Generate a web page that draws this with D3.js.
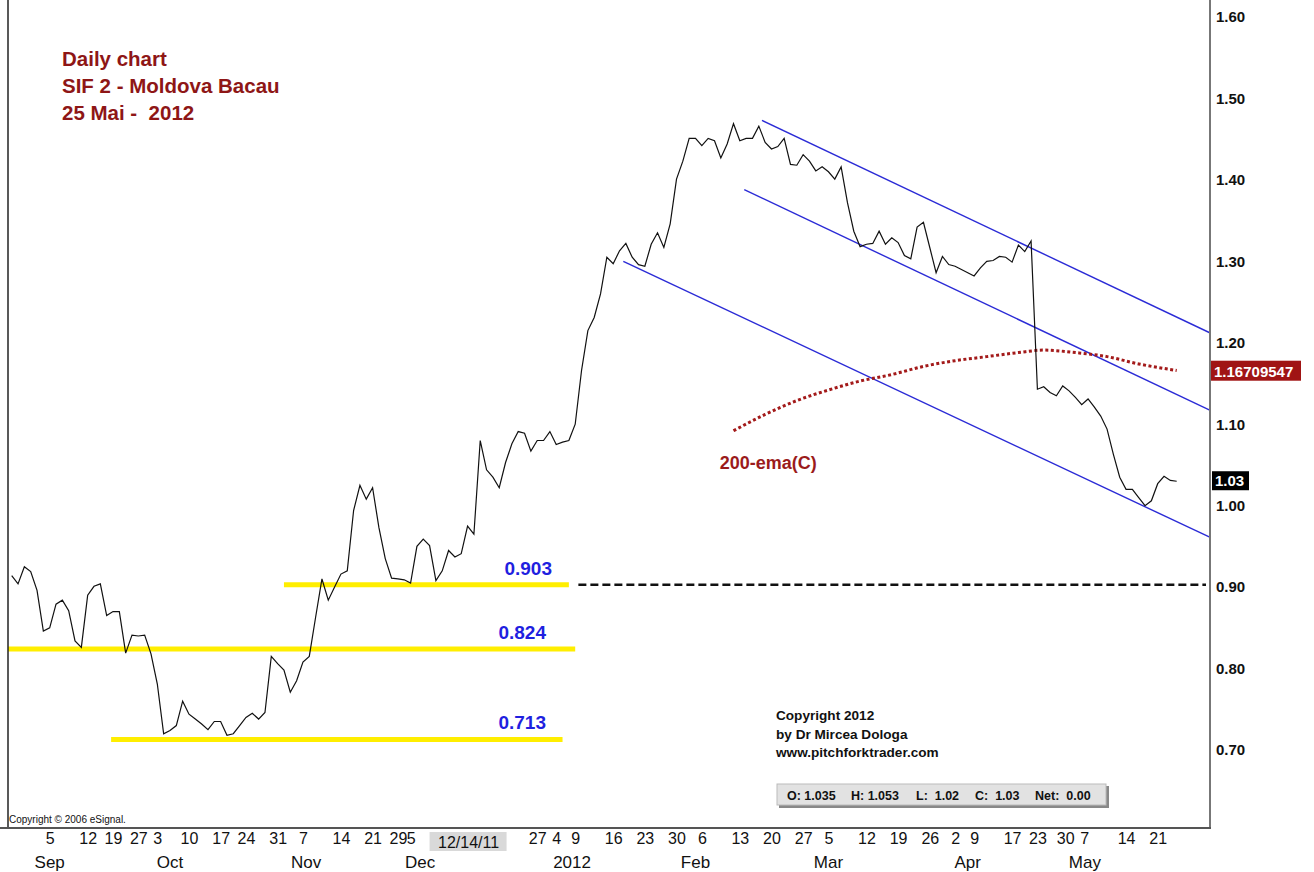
<!DOCTYPE html>
<html>
<head>
<meta charset="utf-8">
<script src="https://d3js.org/d3.v7.min.js"></script>
<style>
  body { margin: 0; background: #fff; }
  text { font-family: Arial, "Liberation Sans", sans-serif; white-space: pre; }
</style>
</head>
<body>
<div id="chart"></div>
<script>
const svgWidth = 1314;
const svgHeight = 872;

// daily closes, one per bar (SIF2, early Sep 2011 -> 25 May 2012)
const closes = [
  0.914, 0.904, 0.925, 0.919, 0.896, 0.846, 0.850, 0.879, 0.884, 0.871,
  0.834, 0.826, 0.890, 0.901, 0.904, 0.865, 0.870, 0.870, 0.819, 0.841,
  0.840, 0.841, 0.818, 0.781, 0.720, 0.724, 0.730, 0.760, 0.744, 0.738,
  0.732, 0.725, 0.735, 0.735, 0.718, 0.720, 0.730, 0.740, 0.745, 0.738,
  0.746, 0.815, 0.806, 0.798, 0.771, 0.785, 0.808, 0.815, 0.863, 0.910,
  0.884, 0.900, 0.916, 0.920, 0.994, 1.025, 1.008, 1.022, 0.973, 0.935,
  0.911, 0.910, 0.909, 0.905, 0.950, 0.959, 0.951, 0.908, 0.920, 0.945,
  0.937, 0.941, 0.975, 0.965, 1.080, 1.044, 1.035, 1.022, 1.053, 1.076,
  1.091, 1.089, 1.067, 1.080, 1.080, 1.091, 1.075, 1.078, 1.080, 1.100,
  1.166, 1.215, 1.231, 1.260, 1.305, 1.297, 1.313, 1.322, 1.305, 1.296,
  1.294, 1.321, 1.335, 1.317, 1.346, 1.401, 1.423, 1.451, 1.451, 1.442,
  1.451, 1.448, 1.427, 1.444, 1.469, 1.448, 1.451, 1.451, 1.466, 1.446,
  1.438, 1.441, 1.451, 1.419, 1.418, 1.431, 1.423, 1.411, 1.416, 1.410,
  1.401, 1.416, 1.372, 1.337, 1.318, 1.321, 1.322, 1.337, 1.321, 1.329,
  1.323, 1.307, 1.303, 1.342, 1.348, 1.317, 1.286, 1.306, 1.296, 1.294,
  1.290, 1.286, 1.282, 1.292, 1.300, 1.301, 1.306, 1.305, 1.299, 1.320,
  1.312, 1.325, 1.143, 1.146, 1.139, 1.135, 1.147, 1.141, 1.133, 1.124,
  1.131, 1.121, 1.110, 1.094, 1.063, 1.035, 1.020, 1.020, 1.010, 1.000,
  1.006, 1.027, 1.036, 1.031, 1.030
];

// 200-ema(C), read every few bars
const emaIdx = [114, 119, 124, 129, 134, 139, 144, 149, 154, 159, 163, 168, 173, 178, 184];
const emaVals = [1.092, 1.112, 1.129, 1.142, 1.153, 1.161, 1.171, 1.178, 1.183, 1.188, 1.191, 1.188, 1.183, 1.174, 1.166];

// axis labels (bar index -> text)
const dayTickIdx = [6, 12, 16, 20, 23, 28, 33, 37, 42, 46, 52, 57, 61, 63, 83, 86, 89, 95, 100, 105, 109, 115, 120, 125, 129, 135, 140, 145, 149, 152, 158, 162, 166.4, 169.4, 176, 181];
const dayTickText = ["5", "12", "19", "27", "3", "10", "17", "24", "31", "7", "14", "21", "29", "5", "27", "4", "9", "16", "23", "30", "6", "13", "20", "27", "5", "12", "19", "26", "2", "9", "17", "23", "30", "7", "14", "21"];
const monthTickIdx = [6, 25, 46.5, 64.5, 88.5, 108, 129, 151, 169.5];
const monthTickText = ["Sep", "Oct", "Nov", "Dec", "2012", "Feb", "Mar", "Apr", "May"];
const cursorIdx = 72;
const cursorText = "12/14/11";

const priceTicks = [0.70, 0.80, 0.90, 1.00, 1.10, 1.20, 1.30, 1.40, 1.50, 1.60];

// horizontal support levels (yellow), bar span
const levelValues = [0.903, 0.824, 0.713];
const levelStart = [43, -1, 15.7];
const levelEnd = [88, 89, 87];

// descending channel lines: [startIdx, startVal, endIdx, endVal]
const channelUpper = [118.5, 1.473, 189.3, 1.212];
const channelMiddle = [115.7, 1.388, 189.3, 1.117];
const channelLower = [96.6, 1.300, 189.3, 0.961];

const emaLast = "1.16709547";
const closeLast = 1.03;
const titleLines = ["Daily chart", "SIF 2 - Moldova Bacau", "25 Mai -  2012"];
const creditLines = ["Copyright 2012", "by Dr Mircea Dologa", "www.pitchforktrader.com"];
const ohlcText = ["O: 1.035", "H: 1.053", "L:  1.02", "C:  1.03", "Net:  0.00"];

// plot box
const plot = { left: 8, right: 1210, top: 0, bottom: 828 };

const svg = d3.select("#chart")
  .append("svg")
  .attr("width", svgWidth)
  .attr("height", svgHeight)
  .style("background", "#fff");

// scales: bar index -> x, price -> y
const x = d3.scaleLinear()
  .domain([0, closes.length - 1])
  .range([11.7, 1176.7]);

const y = d3.scaleLinear()
  .domain([0.70, 1.60])
  .range([750, 17]);

svg.append("clipPath")
  .attr("id", "plotClip")
  .append("rect")
  .attr("x", plot.left)
  .attr("y", plot.top)
  .attr("width", plot.right - plot.left)
  .attr("height", plot.bottom - plot.top);

const chartGroup = svg.append("g").attr("clip-path", "url(#plotClip)");

// yellow levels
chartGroup.selectAll(".level")
  .data(levelValues)
  .enter()
  .append("line")
  .attr("x1", (d, i) => x(levelStart[i]))
  .attr("x2", (d, i) => x(levelEnd[i]))
  .attr("y1", d => y(d))
  .attr("y2", d => y(d))
  .attr("stroke", "#ffee00")
  .attr("stroke-width", 5);

// dashed continuation of 0.903
chartGroup.append("line")
  .attr("x1", x(89.5))
  .attr("x2", plot.right - 4)
  .attr("y1", y(levelValues[0]))
  .attr("y2", y(levelValues[0]))
  .attr("stroke", "#111")
  .attr("stroke-width", 2.5)
  .attr("stroke-dasharray", "8,4");

// channel lines
chartGroup.selectAll(".channel")
  .data([channelUpper, channelMiddle, channelLower])
  .enter()
  .append("line")
  .attr("x1", d => x(d[0]))
  .attr("y1", d => y(d[1]))
  .attr("x2", d => x(d[2]))
  .attr("y2", d => y(d[3]))
  .attr("stroke", "#2b2bd6")
  .attr("stroke-width", 1.4);

// 200 ema dotted
const emaLine = d3.line()
  .x((d, i) => x(emaIdx[i]))
  .y(d => y(d))
  .curve(d3.curveMonotoneX);

chartGroup.append("path")
  .datum(emaVals)
  .attr("d", emaLine)
  .attr("fill", "none")
  .attr("stroke", "#a31a1a")
  .attr("stroke-width", 3)
  .attr("stroke-dasharray", "3,2.5");

// price line
const priceLine = d3.line()
  .x((d, i) => x(i))
  .y(d => y(d));

chartGroup.append("path")
  .datum(closes)
  .attr("d", priceLine)
  .attr("fill", "none")
  .attr("stroke", "#111")
  .attr("stroke-width", 1.2);

// level labels (right edges as in the picture)
const labelRight = [552, 546, 546];
svg.selectAll(".levelLabel")
  .data(levelValues)
  .enter()
  .append("text")
  .attr("x", (d, i) => labelRight[i])
  .attr("y", d => y(d) - 10)
  .attr("text-anchor", "end")
  .attr("font-size", 19)
  .attr("font-weight", "bold")
  .attr("fill", "#1f1fe0")
  .text(d => d3.format(".3f")(d));

svg.append("text")
  .attr("x", x(119.5))
  .attr("y", 469)
  .attr("text-anchor", "middle")
  .attr("font-size", 18)
  .attr("font-weight", "bold")
  .attr("fill", "#9b1b1b")
  .text("200-ema(C)");

// frame
svg.append("line")
  .attr("x1", plot.left).attr("x2", plot.left)
  .attr("y1", 0).attr("y2", plot.bottom)
  .attr("stroke", "#222").attr("stroke-width", 1.5);
svg.append("line")
  .attr("x1", plot.right).attr("x2", plot.right)
  .attr("y1", 0).attr("y2", plot.bottom)
  .attr("stroke", "#777").attr("stroke-width", 2);
svg.append("line")
  .attr("x1", 0).attr("x2", plot.right + 1)
  .attr("y1", plot.bottom).attr("y2", plot.bottom)
  .attr("stroke", "#555").attr("stroke-width", 2);

// right price axis
const rightAxis = d3.axisRight(y)
  .tickValues(priceTicks)
  .tickFormat(d3.format(".2f"))
  .tickSize(0)
  .tickPadding(6);

const yAxis = svg.append("g")
  .attr("transform", `translate(${plot.right}, 0)`)
  .call(rightAxis);
yAxis.select(".domain").remove();
yAxis.selectAll("text")
  .attr("font-size", 15)
  .attr("font-weight", "bold")
  .attr("fill", "#111")
  .style("font-family", "Arial, 'Liberation Sans', sans-serif");

// last value tags
const emaTag = svg.append("g").attr("transform", `translate(${plot.right + 1}, ${y(1.1657)})`);
emaTag.append("rect")
  .attr("x", 0).attr("y", -10)
  .attr("width", 90).attr("height", 20)
  .attr("fill", "#a01414");
emaTag.append("text")
  .attr("x", 3).attr("y", 6)
  .attr("font-size", 15).attr("font-weight", "bold")
  .attr("fill", "#fff")
  .text(emaLast);

const closeTag = svg.append("g").attr("transform", `translate(${plot.right + 2}, ${y(closeLast)})`);
closeTag.append("rect")
  .attr("x", 0).attr("y", -10)
  .attr("width", 37).attr("height", 19)
  .attr("fill", "#000");
closeTag.append("text")
  .attr("x", 3).attr("y", 5)
  .attr("font-size", 15).attr("font-weight", "bold")
  .attr("fill", "#fff")
  .text(d3.format(".2f")(closeLast));

// bottom date axis
const bottomAxis = d3.axisBottom(x)
  .tickValues(dayTickIdx)
  .tickFormat((d, i) => dayTickText[i])
  .tickSize(0)
  .tickPadding(5);

// cursor date box
svg.append("rect")
  .attr("x", x(cursorIdx) - 38)
  .attr("y", 832)
  .attr("width", 77)
  .attr("height", 19)
  .attr("fill", "#d9d9d9");

const xAxis = svg.append("g")
  .attr("transform", `translate(0, ${plot.bottom})`)
  .call(bottomAxis);
xAxis.select(".domain").remove();
xAxis.selectAll("text")
  .attr("font-size", 16)
  .attr("fill", "#111")
  .style("font-family", "Arial, 'Liberation Sans', sans-serif");

svg.append("text")
  .attr("x", x(cursorIdx) + 1)
  .attr("y", 848)
  .attr("text-anchor", "middle")
  .attr("font-size", 16)
  .attr("fill", "#111")
  .text(cursorText);

svg.selectAll(".month")
  .data(monthTickIdx)
  .enter()
  .append("text")
  .attr("x", d => x(d))
  .attr("y", 868)
  .attr("text-anchor", "middle")
  .attr("font-size", 17)
  .attr("fill", "#111")
  .text((d, i) => monthTickText[i]);

// titles
svg.selectAll(".title")
  .data(titleLines)
  .enter()
  .append("text")
  .attr("x", 62)
  .attr("y", (d, i) => 66 + i * 27)
  .attr("font-size", 20.5)
  .attr("font-weight", "bold")
  .attr("fill", "#8e1616")
  .text(d => d);

svg.selectAll(".credit")
  .data(creditLines)
  .enter()
  .append("text")
  .attr("x", 776)
  .attr("y", (d, i) => 720 + i * 18.5)
  .attr("font-size", 13.6)
  .attr("font-weight", "bold")
  .attr("fill", "#111")
  .text(d => d);

svg.append("text")
  .attr("x", 9)
  .attr("y", 823)
  .attr("font-size", 10)
  .attr("fill", "#111")
  .text("Copyright \u00a9 2006 eSignal.");

// OHLC box
const ohlc = svg.append("g").attr("transform", "translate(777, 784)");
ohlc.append("rect")
  .attr("x", 2).attr("y", 2)
  .attr("width", 330).attr("height", 22)
  .attr("fill", "#888");
ohlc.append("rect")
  .attr("width", 329).attr("height", 21)
  .attr("fill", "#e2e2e2")
  .attr("stroke", "#bbb");
const ohlcX = [10, 74, 139, 198, 258];
ohlc.selectAll("text")
  .data(ohlcText)
  .enter()
  .append("text")
  .attr("x", (d, i) => ohlcX[i])
  .attr("y", 16)
  .attr("font-size", 12.5)
  .attr("font-weight", "bold")
  .attr("fill", "#111")
  .text(d => d);
</script>
</body>
</html>
